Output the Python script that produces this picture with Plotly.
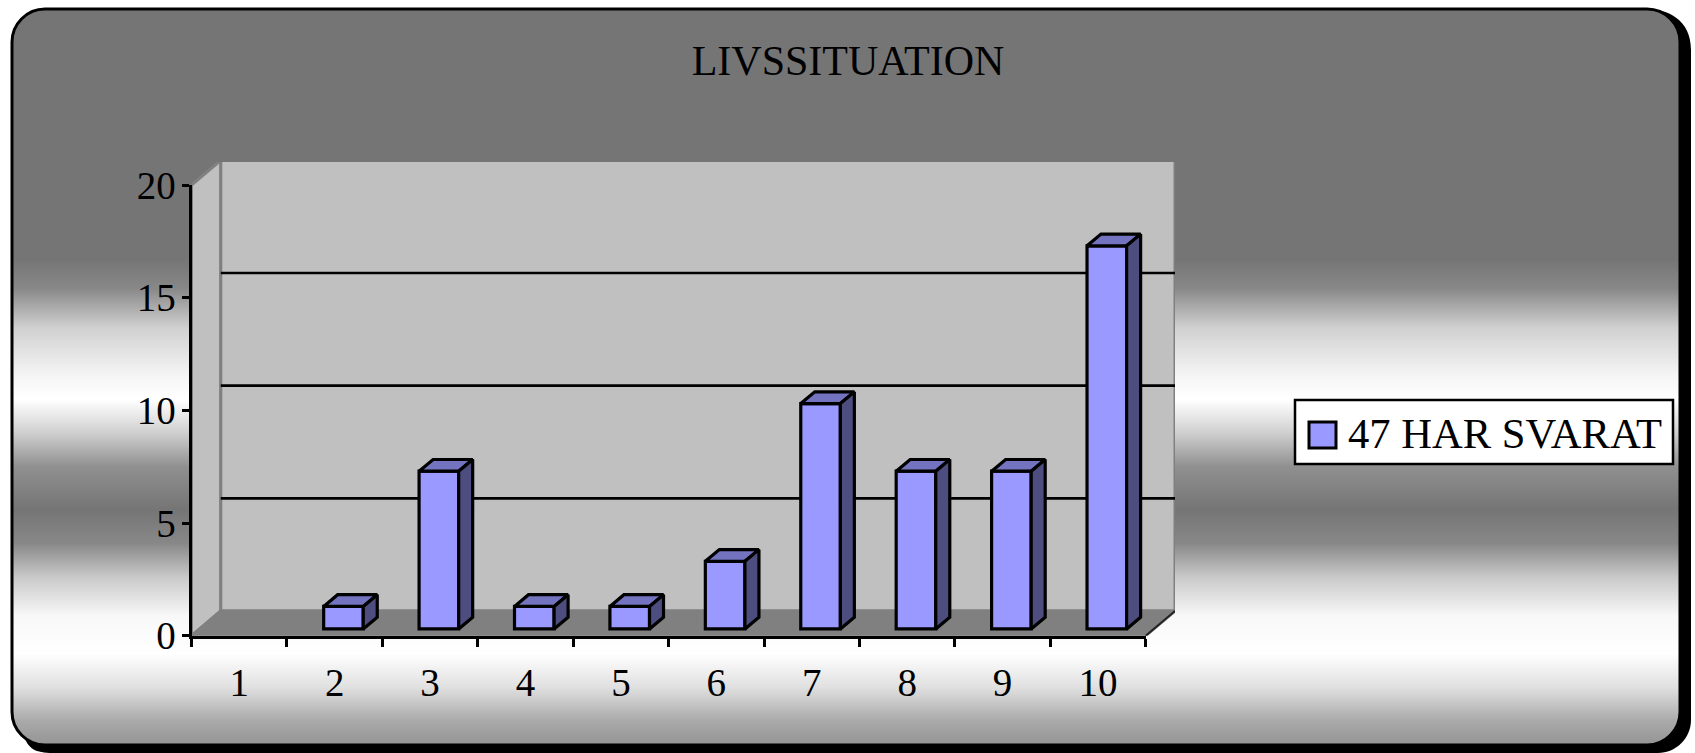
import plotly.graph_objects as go

# ---- data ----
categories = [1, 2, 3, 4, 5, 6, 7, 8, 9, 10]
values = [0, 1, 7, 1, 1, 3, 10, 7, 7, 17]
y_ticks = [0, 5, 10, 15, 20]
series_name = "47 HAR SVARAT"
chart_title = "LIVSSITUATION"

# background gradient stops (pixel row, grey level)
grad_rows = [0, 259, 288, 327, 375, 399, 432, 466, 509, 543, 576, 615, 653, 687, 720, 753]
grad_grey = [117, 117, 136, 208, 245, 255, 208, 144, 117, 136, 200, 248, 255, 224, 170, 140]

# ---- layout constants (pixels) ----
W, H = 1695, 753
AX_L, AX_R, AX_B, AX_T = 191.5, 1145.7, 635.7, 185.0   # front plane of the plot
BACK_R, BACK_T = 1175.0, 162.0
PANEL = dict(L=12, T=9, R=1680, B=745, r=33)
SHADOW = (11, 8)
FONT = "Liberation Serif"
FS = 39

x_unit = (AX_R - AX_L) / 10.0     # px per category
y_unit = (AX_B - AX_T) / 20.0     # px per value
x0, x1 = 0.5, 10.5
wall_dx = (BACK_R - AX_R) / x_unit
wall_dy = (AX_B - 611.0) / y_unit
bar_w = 0.415
bar_off = -0.115
bar_base = 0.30
bar_dx = 14.0 / x_unit
bar_dy = 11.7 / y_unit

FRONT, TOP, SIDE = "#9999ff", "#7373bf", "#4d4d80"
WALL, FLOOR, EDGE = "#c0c0c0", "#808080", "#808080"


def px(x):
    return x / W


def py(y):
    return 1 - y / H


def P(x, y):
    return f"{px(x):.6f},{py(y):.6f}"


def rounded(L, T, R, B, r):
    k = r * 0.45
    return (f"M{P(L + r, T)} C{P(L + k, T)} {P(L, T + k)} {P(L, T + r)} L{P(L, B - r)} "
            f"C{P(L, B - k)} {P(L + k, B)} {P(L + r, B)} L{P(R - r, B)} "
            f"C{P(R - k, B)} {P(R, B - k)} {P(R, B - r)} L{P(R, T + r)} "
            f"C{P(R, T + k)} {P(R - k, T)} {P(R - r, T)} Z")


fig = go.Figure()

# background gradient on its own full-page subplot
fig.add_trace(go.Heatmap(x=[0, W], y=grad_rows, z=[[g / 255, g / 255] for g in grad_grey],
                         zmin=0, zmax=1, zsmooth="best", showscale=False, hoverinfo="skip",
                         colorscale=[[0, "#000000"], [1, "#ffffff"]], xaxis="x", yaxis="y"))


def wall(xs, ys, fill, line=EDGE, lw=3):
    fig.add_trace(go.Scatter(x=xs, y=ys, mode="lines", fill="toself", fillcolor=fill,
                             line=dict(color=line, width=lw), showlegend=False, hoverinfo="skip",
                             cliponaxis=False, xaxis="x2", yaxis="y2"))


top_v = y_ticks[-1]
wall([x0, x0 + wall_dx, x0 + wall_dx, x0, x0], [0, wall_dy, top_v + wall_dy, top_v, 0], WALL)
wall([x0 + wall_dx, x1 + wall_dx, x1 + wall_dx, x0 + wall_dx, x0 + wall_dx],
     [wall_dy, wall_dy, top_v + wall_dy, top_v + wall_dy, wall_dy], WALL)
wall([x0, x1, x1 + wall_dx, x0 + wall_dx, x0], [0, 0, wall_dy, wall_dy, 0], FLOOR)
fig.add_trace(go.Scatter(x=[x1, x1 + wall_dx], y=[0, wall_dy], mode="lines",
                         line=dict(color="#222222", width=2), showlegend=False, hoverinfo="skip",
                         cliponaxis=False, xaxis="x2", yaxis="y2"))

for t in y_ticks[1:-1]:
    fig.add_trace(go.Scatter(x=[x0 + wall_dx, x1 + wall_dx], y=[t + wall_dy, t + wall_dy], mode="lines",
                             line=dict(color="black", width=2.7), showlegend=False, hoverinfo="skip",
                             cliponaxis=False, xaxis="x2", yaxis="y2"))

# front faces
fig.add_trace(go.Bar(x=categories, y=values, base=bar_base, width=bar_w, offset=bar_off,
                     marker=dict(color=FRONT, line=dict(color="black", width=[0 if v == 0 else 3.2 for v in values])),
                     name=series_name, showlegend=False, xaxis="x3", yaxis="y3"))


def face(xs, ys, colour):
    fig.add_trace(go.Scatter(x=xs, y=ys, mode="lines", fill="toself", fillcolor=colour,
                             line=dict(color="black", width=3.2), showlegend=False, hoverinfo="skip",
                             cliponaxis=False, xaxis="x3", yaxis="y3"))


for c, v in zip(categories, values):
    if v == 0:
        continue
    l = c + bar_off
    r = l + bar_w
    b = bar_base
    t = bar_base + v
    face([l, l + bar_dx, r + bar_dx, r, l], [t, t + bar_dy, t + bar_dy, t, t], TOP)
    face([r, r + bar_dx, r + bar_dx, r, r], [b, b + bar_dy, t + bar_dy, t, b], SIDE)

# legend entry
fig.add_trace(go.Scatter(x=[None], y=[None], mode="markers", name=series_name,
                         marker=dict(symbol="square", size=12, color=FRONT),
                         xaxis="x3", yaxis="y3", showlegend=True))

L, T, R, B, r = PANEL["L"], PANEL["T"], PANEL["R"], PANEL["B"], PANEL["r"]
sx, sy = SHADOW
k = r * 0.45
mask = (f"M{P(0, 0)} L{P(W, 0)} L{P(W, H)} L{P(0, H)} Z "
        f"M{P(L + r, T)} C{P(L + k, T)} {P(L, T + k)} {P(L, T + r)} L{P(L, B - r)} "
        f"C{P(L, B - k)} {P(L + k, B)} {P(L + r, B)} L{P(R - r, B)} "
        f"C{P(R - k, B)} {P(R, B - k)} {P(R, B - r)} L{P(R, T + r)} "
        f"C{P(R, T + k)} {P(R - k, T)} {P(R - r, T)} Z")
crescent = (f"M{P(R - r, T)} C{P(R - r + 20, T)} {P(R + sx, T + 10)} {P(R + sx, T + r + sy)} "
            f"L{P(R + sx, B - r + sy)} C{P(R + sx, B - k + sy)} {P(R - k + sx, B + sy)} {P(R - r + sx, B + sy)} "
            f"L{P(L + r + sx, B + sy)} C{P(L + k + sx, B + sy)} {P(L + sx + 6, B + sy - 2)} {P(L + 12, B - 9)} "
            f"C{P(L + 16, B - 4)} {P(L + 22, B)} {P(L + r, B)} L{P(R - r, B)} "
            f"C{P(R - k, B)} {P(R, B - k)} {P(R, B - r)} L{P(R, T + r)} "
            f"C{P(R, T + k)} {P(R - k, T)} {P(R - r, T)} Z")
shapes = [
    dict(type="path", path=mask, xref="paper", yref="paper", fillcolor="white", line=dict(width=0), layer="above"),
    dict(type="path", path=crescent, xref="paper", yref="paper", fillcolor="black", line=dict(width=0), layer="above"),
    dict(type="path", path=rounded(L, T, R, B, r), xref="paper", yref="paper", fillcolor="rgba(0,0,0,0)",
         line=dict(color="black", width=3), layer="above"),
    dict(type="rect", xref="paper", yref="paper", x0=px(1295), x1=px(1673), y0=py(464), y1=py(400),
         fillcolor="white", line=dict(color="black", width=2.5), layer="above"),
    dict(type="rect", xref="paper", yref="paper", x0=px(1309), x1=px(1336), y0=py(448), y1=py(422),
         fillcolor=FRONT, line=dict(color="black", width=3), layer="above"),
]

axis_font = dict(family=FONT, size=FS, color="black")
hidden = dict(visible=False, fixedrange=True)
fig.update_layout(
    width=W, height=H, margin=dict(l=0, r=0, t=0, b=0, pad=0, autoexpand=False),
    paper_bgcolor="white", plot_bgcolor="rgba(0,0,0,0)", showlegend=True, barmode="overlay",
    font=dict(family=FONT, color="black"),
    title=dict(text=chart_title, x=848 / W, y=py(60.5), xanchor="center", yanchor="middle",
               xref="paper", yref="paper", font=dict(family=FONT, size=42, color="black")),
    xaxis=dict(domain=[0, 1], range=[0, W], **hidden),
    yaxis=dict(domain=[0, 1], range=[H, 0], **hidden),
    xaxis2=dict(domain=[px(AX_L), px(BACK_R)], range=[x0, x0 + (BACK_R - AX_L) / x_unit], anchor="y2", **hidden),
    yaxis2=dict(domain=[py(AX_B), py(BACK_T)], range=[0, (AX_B - BACK_T) / y_unit], anchor="x2", **hidden),
    xaxis3=dict(domain=[px(AX_L), px(AX_R)], range=[x0, x1], anchor="y3", fixedrange=True,
                tickmode="array", tickvals=categories, ticktext=[str(c) for c in categories],
                ticks="", showgrid=False, zeroline=False, showline=True, linecolor="black", linewidth=3,
                tickfont=axis_font, ticklabelstandoff=10,
                minor=dict(tickmode="array", tickvals=[c - 0.5 for c in categories] + [categories[-1] + 0.5],
                           ticks="outside", ticklen=8, tickwidth=3, tickcolor="black", showgrid=False)),
    yaxis3=dict(domain=[py(AX_B), py(AX_T)], range=[0, top_v], anchor="x3", fixedrange=True,
                tickmode="array", tickvals=y_ticks, ticks="outside", ticklen=7, tickwidth=3, tickcolor="black",
                showgrid=False, zeroline=False, showline=True, linecolor="black", linewidth=3,
                tickfont=axis_font, ticklabelstandoff=-2),
    legend=dict(x=px(1295), y=py(432), xanchor="left", yanchor="middle", bgcolor="rgba(0,0,0,0)", borderwidth=0,
                itemwidth=43, font=dict(family=FONT, size=42.6, color="black"), itemclick=False, itemdoubleclick=False),
    shapes=shapes,
)

fig.write_html("out.html", config=dict(displayModeBar=False),
               post_script="document.body.style.margin='0';document.body.style.overflow='hidden';")
